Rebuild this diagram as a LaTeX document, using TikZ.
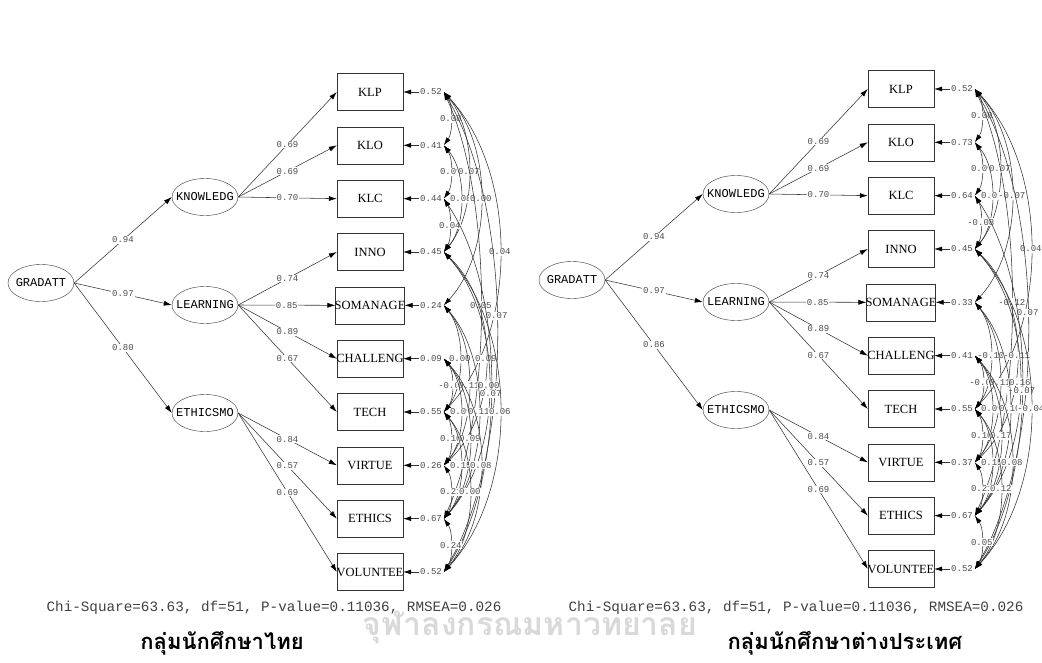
\documentclass[tikz,border=0pt]{standalone}
\usepackage{fontspec}
\setmainfont{Liberation Serif}
\setmonofont{Liberation Mono}
\newfontfamily\thaifont[Script=Thai]{Loma}
\usetikzlibrary{shapes.geometric,arrows.meta}

\tikzset{
  latent/.style={ellipse, draw=black!80, minimum width=66pt, minimum height=37pt,
    inner xsep=-6pt, inner ysep=6pt, font=\ttfamily\fontsize{12}{12}\selectfont},
  indicator/.style={rectangle, draw=black!80, minimum width=66pt, minimum height=37pt,
    inner xsep=-1pt, font=\fontsize{12.5}{12}\selectfont},
  coef/.style={fill=white, inner sep=0.8pt, text=black!70, font=\ttfamily\fontsize{9}{9}\selectfont},
  pathline/.style={draw=black!80, line width=0.55pt, -{Latex[length=8pt,width=5pt,black]}},
  covline/.style={draw=black!80, line width=0.55pt, {Latex[length=8pt,width=5pt,black]}-{Latex[length=8pt,width=5pt,black]}},
  fitline/.style={text=black!75, font=\ttfamily\fontsize{14.3}{14.3}\selectfont},
  grouptitle/.style={font=\thaifont\bfseries\fontsize{22}{22}\selectfont},
}

% #1 = GRADATT -> ETHICSMO, #2 = error variances, #3 = covariances (from/to/bulge/pos/value)
\newcommand{\semmodel}[3]{%
  \node [latent] (grad) at (41,283) {GRADATT};
  \node [latent] (know) at (205,197) {KNOWLEDG};
  \node [latent] (learn) at (205,305) {LEARNING};
  \node [latent] (ethic) at (205,413) {ETHICSMO};
  \draw [pathline] (grad.east) -- node [coef] {0.94} (know.west);
  \draw [pathline] (grad.east) -- node [coef] {0.97} (learn.west);
  \draw [pathline] (grad.east) -- node [coef] {#1} (ethic.west);
  \foreach \txt [count=\i] in {KLP,KLO,KLC,INNO,SOMANAGE,CHALLENG,TECH,VIRTUE,ETHICS,VOLUNTEE}
    \node [indicator] (ind\i) at (370,{92+53.33*(\i-1)}) {\txt};
  \foreach \lat/\i/\val in {know/1/0.69, know/2/0.69, know/3/0.70, learn/4/0.74, learn/5/0.85,
      learn/6/0.89, learn/7/0.67, ethic/8/0.84, ethic/9/0.57, ethic/10/0.69}
    \draw [pathline] (\lat.east) -- node [coef] {\val} (ind\i.west);
  \foreach \err [count=\i] in {#2} {
    \node [coef] (err\i) at (431,{92+53.33*(\i-1)}) {\err};
    \draw [pathline] (err\i) -- (ind\i);
  }
  % correlated errors
  \foreach \a/\b/\bulge/\p/\val in {#3} {
    \pgfmathsetmacro\k{\bulge/0.75}
    \pgfmathsetmacro\s{(\b-\a)*53.33*0.25}
    \draw [covline] ([xshift=1pt]err\a.east) .. controls +(\k,\s) and +(\k,-\s) .. ([xshift=1pt]err\b.east)
      node [coef, pos=\p] {\val};
  }
}

\begin{document}
\begin{tikzpicture}[x=1pt,y=-1pt]
  \useasboundingbox (0,0) rectangle (1042,662);
  \node [text=black!15, font=\thaifont\bfseries\fontsize{32}{32}\selectfont] (mark) at (530,627) {จุฬาลงกรณมหาวทยาลย};

  \begin{scope}[name prefix=th-]
    \semmodel{0.80}{0.52,0.41,0.44,0.45,0.24,0.09,0.55,0.26,0.67,0.52}
      {1/2/7/0.5/0.08, 2/3/7/0.5/0.09, 1/4/25/0.5/0.07, 2/4/17/0.5/0.08, 1/5/37/0.5/0.00,
       3/4/6/0.5/0.04, 1/7/56/0.5/0.04, 1/9/37/0.5/0.05, 1/10/53/0.47/0.07, 5/7/16/0.5/0.00,
       4/8/42/0.5/0.09, 6/7/8/0.5/-0.01, 5/8/25/0.5/0.11, 4/9/45/0.5/0.00, 3/10/47/0.52/0.07,
       6/8/17/0.5/0.09, 5/9/35/0.5/0.11, 4/10/56/0.5/0.06, 7/8/7/0.5/0.10, 6/9/26/0.5/0.09,
       7/9/17/0.5/0.15, 6/10/37/0.5/0.08, 8/9/7/0.5/0.21, 7/10/26/0.5/0.00, 9/10/7/0.5/0.24}
  \end{scope}

  \begin{scope}[shift={(531,-3)}, name prefix=in-]
    \semmodel{0.86}{0.52,0.73,0.64,0.45,0.33,0.41,0.55,0.37,0.67,0.52}
      {1/2/7/0.5/0.08, 2/3/7/0.5/0.09, 1/4/25/0.5/0.07, 2/4/17/0.5/0.01, 1/5/37/0.5/-0.07,
       3/4/6/0.5/-0.08, 1/7/56/0.5/0.04, 1/9/37/0.5/-0.12, 1/10/53/0.47/0.07, 5/7/16/0.5/-0.10,
       4/8/42/0.5/-0.11, 6/7/8/0.5/-0.01, 5/8/25/0.5/0.11, 4/9/45/0.5/0.16, 3/10/47/0.52/-0.07,
       6/8/17/0.5/0.09, 5/9/35/0.5/0.10, 4/10/56/0.5/-0.04, 7/8/7/0.5/0.10, 6/9/26/0.5/0.17,
       7/9/17/0.5/0.15, 6/10/37/0.5/0.08, 8/9/7/0.5/0.21, 7/10/26/0.5/0.12, 9/10/7/0.5/0.05}
  \end{scope}

  \node [fitline] (fitth) at (274,608) {Chi-Square=63.63, df=51, P-value=0.11036, RMSEA=0.026};
  \node [fitline] (fitin) at (796,608) {Chi-Square=63.63, df=51, P-value=0.11036, RMSEA=0.026};
  \node [grouptitle] (titleth) at (222,643) {กลุ่มนักศึกษาไทย};
  \node [grouptitle] (titlein) at (845,643) {กลุ่มนักศึกษาต่างประเทศ};
\end{tikzpicture}
\end{document}
